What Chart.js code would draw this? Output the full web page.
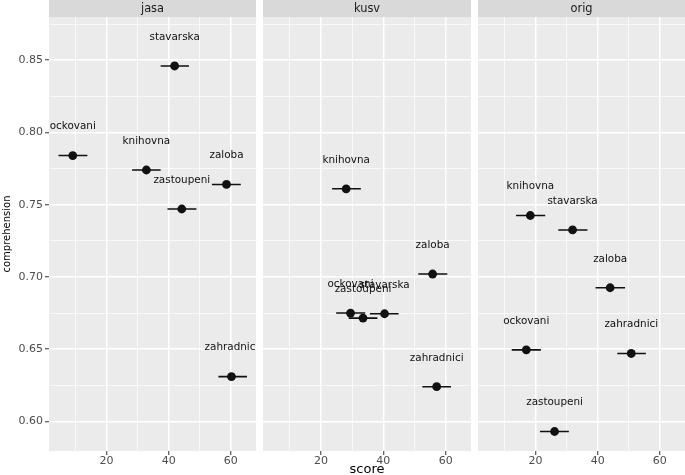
<!DOCTYPE html>
<html><head><meta charset="utf-8">
<script src="https://cdn.jsdelivr.net/npm/chart.js@4.4.1/dist/chart.umd.min.js"></script>
<style>
html,body{margin:0;padding:0;background:#fff;}
#wrap{position:relative;width:685px;height:475px;overflow:hidden;}
canvas{position:absolute;top:0;}
</style></head><body>
<div id="wrap">
<canvas id="c1" width="256" height="475" style="left:0px"></canvas>
<canvas id="c2" width="208" height="475" style="left:263px"></canvas>
<canvas id="c3" width="207" height="475" style="left:478px"></canvas>
</div>
<script>
// ---- data ----
const facets = ['jasa', 'kusv', 'orig'];
const words = ['knihovna', 'ockovani', 'stavarska', 'zahradnici', 'zaloba', 'zastoupeni'];

const jasaScore = [32.8, 9.1, 41.9, 60.2, 58.6, 44.2];
const jasaLow   = [28.2, 4.5, 37.4, 56.0, 53.9, 39.6];
const jasaHigh  = [37.4, 13.8, 46.5, 65.2, 63.2, 48.9];
const jasaComp  = [0.774, 0.784, 0.846, 0.631, 0.764, 0.747];

const kusvScore = [28.1, 29.5, 40.4, 57.1, 55.8, 33.5];
const kusvLow   = [23.6, 24.9, 35.7, 52.5, 51.2, 28.9];
const kusvHigh  = [32.8, 34.2, 44.9, 61.7, 60.5, 38.1];
const kusvComp  = [0.761, 0.675, 0.6745, 0.624, 0.702, 0.6715];

const origScore = [18.3, 17.0, 31.9, 50.8, 44.0, 26.1];
const origLow   = [13.7, 12.3, 27.3, 46.3, 39.3, 21.4];
const origHigh  = [23.1, 21.7, 36.7, 55.5, 48.8, 30.7];
const origComp  = [0.7425, 0.6495, 0.7325, 0.647, 0.6925, 0.593];

const xMajorTicks = [20, 40, 60];
const xMinorTicks = [10, 30, 50];
const yMajorTicks = [0.60, 0.65, 0.70, 0.75, 0.80, 0.85];
const yMinorTicks = [0.625, 0.675, 0.725, 0.775, 0.825, 0.875];
const xTitle = 'score';
const yTitle = 'comprehension';

// ---- rendering ----
Chart.defaults.font.family = '"DejaVu Sans", sans-serif';
const FONT = '"DejaVu Sans", sans-serif';
const X_MIN = 1.45, X_MAX = 68.1, Y_MIN = 0.5795, Y_MAX = 0.8799;
const NUDGE = 0.02;

const isIn = (arr, v) => arr.some(m => Math.abs(m - v) < 1e-9);

const facetPlugin = {
  id: 'facet',
  beforeDraw(chart, args, opts) {
    const {ctx, chartArea: a} = chart;
    ctx.save();
    ctx.fillStyle = '#ebebeb';
    ctx.fillRect(a.left, a.top, a.right - a.left, a.bottom - a.top);
    ctx.fillStyle = '#d9d9d9';
    ctx.fillRect(a.left, 0, a.right - a.left, a.top);
    ctx.fillStyle = '#1a1a1a';
    ctx.font = '11.4px ' + FONT;
    ctx.textAlign = 'center';
    ctx.textBaseline = 'middle';
    ctx.fillText(opts.text, (a.left + a.right) / 2, a.top / 2 + 0.5);
    ctx.restore();
  },
  afterDatasetsDraw(chart, args, opts) {
    const {ctx, chartArea: a, scales} = chart;
    ctx.save();
    ctx.beginPath();
    ctx.rect(a.left, a.top, a.right - a.left, a.bottom - a.top);
    ctx.clip();
    ctx.fillStyle = '#111111';
    ctx.font = '10.4px ' + FONT;
    ctx.textAlign = 'center';
    ctx.textBaseline = 'middle';
    opts.labels.forEach((t, i) => {
      const px = scales.x.getPixelForValue(opts.xs[i]);
      const py = scales.y.getPixelForValue(opts.ys[i] + NUDGE);
      ctx.fillText(t, px, py);
    });
    ctx.restore();
  }
};

function makeChart(id, name, score, low, high, comp, showY, showXTitle) {
  const pts = score.map((s, i) => ({x: s, y: comp[i]}));
  const bars = [];
  low.forEach((l, i) => {
    bars.push({x: l, y: comp[i]});
    bars.push({x: high[i], y: comp[i]});
    bars.push({x: null, y: null});
  });
  return new Chart(document.getElementById(id), {
    type: 'scatter',
    data: {
      datasets: [
        {data: pts, pointRadius: 4.4, pointHoverRadius: 4.4, pointBackgroundColor: '#111',
         pointBorderWidth: 0, showLine: false},
        {data: bars, showLine: true, spanGaps: false, pointRadius: 0, pointHoverRadius: 0,
         borderColor: '#111', borderWidth: 1.6, fill: false}
      ]
    },
    options: {
      responsive: false,
      devicePixelRatio: 1,
      animation: false,
      events: [],
      layout: {padding: {top: 17, left: 0, right: 0, bottom: 0}, autoPadding: false},
      plugins: {
        legend: {display: false},
        tooltip: {enabled: false},
        facet: {text: name, labels: words, xs: score, ys: comp}
      },
      scales: {
        x: {
          type: 'linear', min: X_MIN, max: X_MAX,
          afterBuildTicks: s => {
            s.ticks = [...xMinorTicks, ...xMajorTicks].sort((a, b) => a - b).map(v => ({value: v}));
          },
          afterFit: s => { s.height = 24; },
          border: {display: false},
          grid: {
            color: '#ffffff',
            lineWidth: c => (c.tick && isIn(xMajorTicks, c.tick.value)) ? 1.5 : 0.7,
            drawTicks: true, tickLength: 4,
            tickColor: c => (c.tick && isIn(xMajorTicks, c.tick.value)) ? '#333333' : 'rgba(0,0,0,0)',
            tickWidth: 1
          },
          ticks: {
            autoSkip: false, maxRotation: 0, minRotation: 0, padding: 0,
            color: '#4d4d4d', font: {size: 11, family: FONT},
            callback: v => isIn(xMajorTicks, v) ? String(v) : ''
          },
          title: {display: showXTitle, text: xTitle, color: '#000',
                  font: {size: 13, family: FONT, lineHeight: 0.8}, padding: 0}
        },
        y: {
          type: 'linear', min: Y_MIN, max: Y_MAX,
          afterBuildTicks: s => {
            s.ticks = [...yMinorTicks, ...yMajorTicks].sort((a, b) => a - b).map(v => ({value: v}));
          },
          afterFit: s => { s.width = showY ? 49 : 0; },
          border: {display: false},
          grid: {
            color: '#ffffff',
            lineWidth: c => (c.tick && isIn(yMajorTicks, c.tick.value)) ? 1.5 : 0.7,
            drawTicks: showY, tickLength: 4,
            tickColor: c => (c.tick && isIn(yMajorTicks, c.tick.value)) ? '#333333' : 'rgba(0,0,0,0)',
            tickWidth: 1
          },
          ticks: {
            display: showY,
            autoSkip: false, padding: 2,
            color: '#4d4d4d', font: {size: 11, family: FONT},
            callback: v => isIn(yMajorTicks, v) ? v.toFixed(2) : ''
          },
          title: {display: showY, text: yTitle, color: '#000',
                  font: {size: 10, family: FONT, lineHeight: 1.2}, padding: {top: 1}}
        }
      }
    },
    plugins: [facetPlugin]
  });
}

makeChart('c1', facets[0], jasaScore, jasaLow, jasaHigh, jasaComp, true, false);
makeChart('c2', facets[1], kusvScore, kusvLow, kusvHigh, kusvComp, false, true);
makeChart('c3', facets[2], origScore, origLow, origHigh, origComp, false, false);
</script>
</body></html>
